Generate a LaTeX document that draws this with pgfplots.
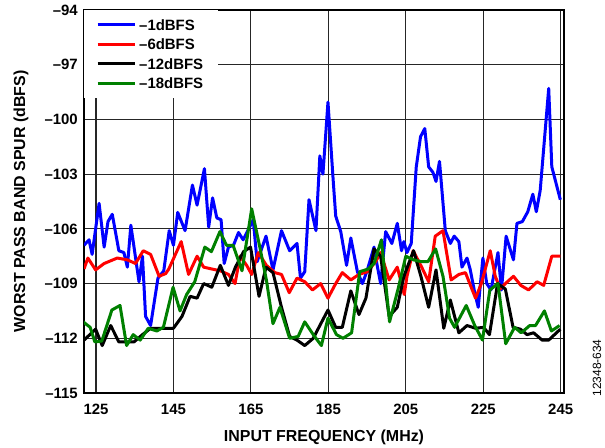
\documentclass[border=0pt]{standalone}
\usepackage{pgfplots}
\pgfplotsset{compat=1.18}
\usepackage{fontspec}
\setmainfont{Liberation Sans}
\definecolor{cblue}{RGB}{0,0,255}
\definecolor{cred}{RGB}{255,0,0}
\definecolor{cgreen}{RGB}{0,128,0}
\begin{document}
\begin{tikzpicture}
\useasboundingbox (0,0) rectangle (605bp,448bp);
\begin{axis}[
  at={(84bp,55bp)}, anchor=south west,
  width=480bp, height=383bp, scale only axis,
  xmin=121.9, xmax=245.85, ymin=-115, ymax=-94,
  xtick={125,145,165,185,205,225,245},
  xticklabels={125,145,165,185,205,225,245},
  ytick={-115,-112,-109,-106,-103,-100,-97,-94},
  yticklabels={–115,–112,–109,–106,–103,–100,–97,–94},
  grid=major,
  major grid style={black!85, line width=1.1bp},
  major tick length=0pt,
  axis line style={line width=1.8bp},
  tick label style={font=\fontsize{15}{17}\selectfont\bfseries},
  xticklabel style={anchor=base, yshift=-21.5bp},
  yticklabel style={anchor=east, inner xsep=0pt, xshift=-6bp},
  xlabel={INPUT FREQUENCY (MHz)},
  ylabel={WORST PASS BAND SPUR (dBFS)},
  label style={font=\fontsize{16}{18}\selectfont\bfseries},
  xlabel style={at={(axis description cs:0.5,0)}, anchor=base, yshift=-48bp},
  ylabel style={at={(axis description cs:-0.1229,0.5)}, anchor=base},
  legend style={at={(0,1)}, anchor=north west, draw=none, fill=white,
    font=\fontsize{15}{17}\selectfont\bfseries,
    inner xsep=12bp, inner ysep=5bp, row sep=0bp,
    nodes={inner ysep=2bp, inner xsep=3bp, text height=13bp, text depth=2.5bp}},
  legend cell align=left,
  legend image code/.code={\draw[#1] (0bp,0bp) -- (37bp,0bp);},
  every axis plot/.append style={line width=3bp, line join=round},
]
\addplot[cblue] coordinates {
(121.9,-106.9) (123.2,-106.6) (124.0,-107.4) (125.8,-104.6) (127.1,-107.0)
(128.1,-105.6) (129.2,-105.2) (130.9,-107.2) (132.2,-107.3) (133.1,-108.1)
(134.0,-105.8) (136.1,-108.9) (137.0,-107.5) (137.8,-110.8) (139.1,-111.3)
(141.0,-108.7) (142.5,-108.3) (143.9,-106.1) (145.0,-106.9) (146.1,-105.1)
(148.0,-106.1) (149.9,-103.6) (151.1,-104.7) (153.0,-102.7) (154.1,-105.9)
(155.1,-104.3) (156.2,-105.4) (157.3,-105.5) (158.1,-107.9) (159.2,-107.0)
(160.5,-106.9) (161.8,-106.2) (163.0,-106.6) (165.6,-105.5) (166.6,-107.8)
(168.9,-106.4) (170.7,-108.25) (172.9,-106.1) (175.0,-107.2) (176.9,-106.8)
(177.8,-108.7) (178.9,-108.35) (180.0,-104.4) (181.8,-106.1) (182.8,-102.0)
(183.6,-103.0) (184.9,-99.05) (186.3,-103.5) (186.9,-105.3) (188.2,-106.15)
(189.7,-108.0) (190.8,-106.5) (192.5,-108.35) (193.8,-109.0) (195.0,-108.3)
(196.8,-107.0) (197.6,-108.0) (198.5,-109.0) (199.8,-106.15) (201.4,-106.8)
(202.8,-105.7) (203.9,-107.2) (204.5,-106.7) (205.3,-107.3) (206.4,-106.8)
(207.7,-102.6) (208.8,-100.95) (209.9,-100.5) (210.9,-102.6) (212.0,-102.9)
(212.8,-103.4) (213.7,-102.3) (215.2,-106.1) (216.5,-106.8) (217.5,-106.4)
(218.7,-106.7) (219.5,-108.1) (220.8,-107.6) (221.6,-108.2) (222.8,-109.5)
(223.7,-110.3) (224.9,-107.6) (225.9,-109.0) (227.0,-109.35) (228.8,-107.3)
(229.7,-109.35) (230.9,-106.4) (232.8,-107.7) (233.7,-105.7) (235.1,-105.6)
(236.5,-105.06) (237.8,-104.1) (238.7,-105.06) (239.7,-103.9) (241.9,-98.3)
(242.7,-102.6) (244.9,-104.4)
};
\addlegendentry{–1dBFS}
\addplot[cred] coordinates {
(121.9,-108.2) (122.9,-107.6) (124.9,-108.25) (127.1,-107.9) (130.5,-107.6)
(133.1,-107.7) (135.2,-107.9) (137.2,-107.2) (139.1,-107.4) (141.3,-108.6)
(143.0,-108.45) (143.8,-108.2) (147.0,-106.7) (148.9,-108.5) (151.1,-107.5)
(152.8,-108.1) (154.9,-108.2) (157.1,-108.3) (159.2,-108.5) (160.9,-109.0)
(162.2,-107.5) (163.9,-108.0) (165.2,-108.5) (166.9,-107.3) (169.0,-108.0)
(171.2,-108.4) (172.9,-108.5) (174.9,-109.5) (176.9,-108.7) (178.9,-108.9)
(180.9,-109.35) (183.0,-109.0) (184.9,-109.8) (186.9,-109.0) (188.6,-108.4)
(190.8,-108.8) (192.9,-108.5) (195.1,-108.35) (197.2,-107.8) (198.5,-107.3)
(200.7,-108.8) (202.8,-108.1) (204.6,-109.6) (205.3,-108.6) (206.9,-107.2)
(209.1,-108.1) (210.9,-108.9) (212.6,-106.4) (214.6,-106.1) (216.7,-108.8)
(218.7,-108.5) (220.4,-108.4) (223.0,-109.8) (224.5,-109.0) (226.8,-107.2)
(228.1,-108.6) (229.4,-109.3) (230.7,-109.0) (232.8,-108.6) (234.7,-109.1)
(236.7,-109.35) (238.9,-108.9) (240.6,-109.1) (242.7,-107.5) (244.9,-107.5)
};
\addlegendentry{–6dBFS}
\addplot[black] coordinates {
(121.9,-112.1) (124.9,-111.5) (126.6,-112.4) (128.8,-111.3) (130.9,-112.2)
(134.8,-112.2) (137.0,-111.8) (139.1,-111.45) (145.0,-111.45) (147.2,-110.8)
(149.3,-109.7) (151.1,-109.8) (152.8,-109.0) (154.9,-109.2) (157.1,-108.0)
(159.2,-109.1) (161.0,-108.1) (163.1,-107.25) (164.9,-107.0) (167.1,-109.7)
(168.9,-108.1) (170.7,-108.4) (172.9,-110.3) (175.0,-111.9) (176.9,-112.1)
(178.9,-112.4) (181.1,-112.0) (182.8,-111.3) (184.9,-110.45) (186.9,-111.4)
(188.6,-111.4) (190.8,-109.4) (192.9,-110.7) (194.7,-109.8) (196.8,-107.1)
(198.5,-107.5) (200.7,-110.8) (202.8,-110.3) (204.5,-108.6) (207.0,-107.2)
(208.9,-108.6) (210.9,-110.3) (212.8,-108.25) (214.8,-111.45) (216.5,-109.9)
(218.7,-111.7) (220.8,-111.3) (223.0,-111.45) (225.1,-111.4) (226.6,-111.8)
(228.7,-109.0) (230.7,-109.3) (232.7,-111.4) (234.6,-111.5) (236.3,-111.8)
(238.0,-111.7) (240.2,-112.1) (241.9,-112.1) (244.9,-111.5)
};
\addlegendentry{–12dBFS}
\addplot[cgreen] coordinates {
(121.7,-111.1) (123.5,-111.4) (124.7,-112.2) (126.5,-112.15) (129.1,-110.45)
(131.2,-110.2) (132.9,-112.4) (134.6,-111.8) (136.4,-112.1) (138.5,-111.45)
(140.7,-111.6) (142.4,-111.4) (144.9,-109.2) (146.7,-110.5) (148.4,-109.6)
(150.5,-108.9) (153.1,-107.0) (154.8,-107.25) (157.0,-106.15) (158.7,-106.9)
(160.4,-106.9) (162.7,-108.3) (165.2,-104.9) (167.3,-107.0) (169.0,-108.8)
(170.7,-111.2) (172.5,-110.3) (175.0,-112.0) (177.2,-111.9) (178.9,-111.1)
(181.1,-111.8) (183.2,-112.4) (184.9,-110.9) (187.1,-111.8) (188.8,-112.0)
(191.0,-111.7) (193.1,-108.35) (195.3,-108.2) (196.8,-107.9) (198.7,-106.6)
(200.8,-111.1) (203.0,-109.3) (205.0,-107.5) (207.0,-107.7) (209.0,-107.8)
(210.7,-107.8) (212.7,-107.1) (214.6,-108.6) (216.3,-110.9) (217.6,-111.4)
(220.6,-110.2) (222.8,-111.3) (224.8,-112.1) (226.7,-109.35) (228.8,-109.0)
(230.8,-112.3) (233.1,-111.4) (234.8,-111.7) (237.0,-111.3) (238.5,-111.3)
(240.8,-110.5) (242.6,-111.6) (244.7,-111.3)
};
\addlegendentry{–18dBFS}
\end{axis}
\node[rotate=90, font=\fontsize{12}{13}\selectfont] at (597bp,80bp) {12348-634};
\end{tikzpicture}
\end{document}
